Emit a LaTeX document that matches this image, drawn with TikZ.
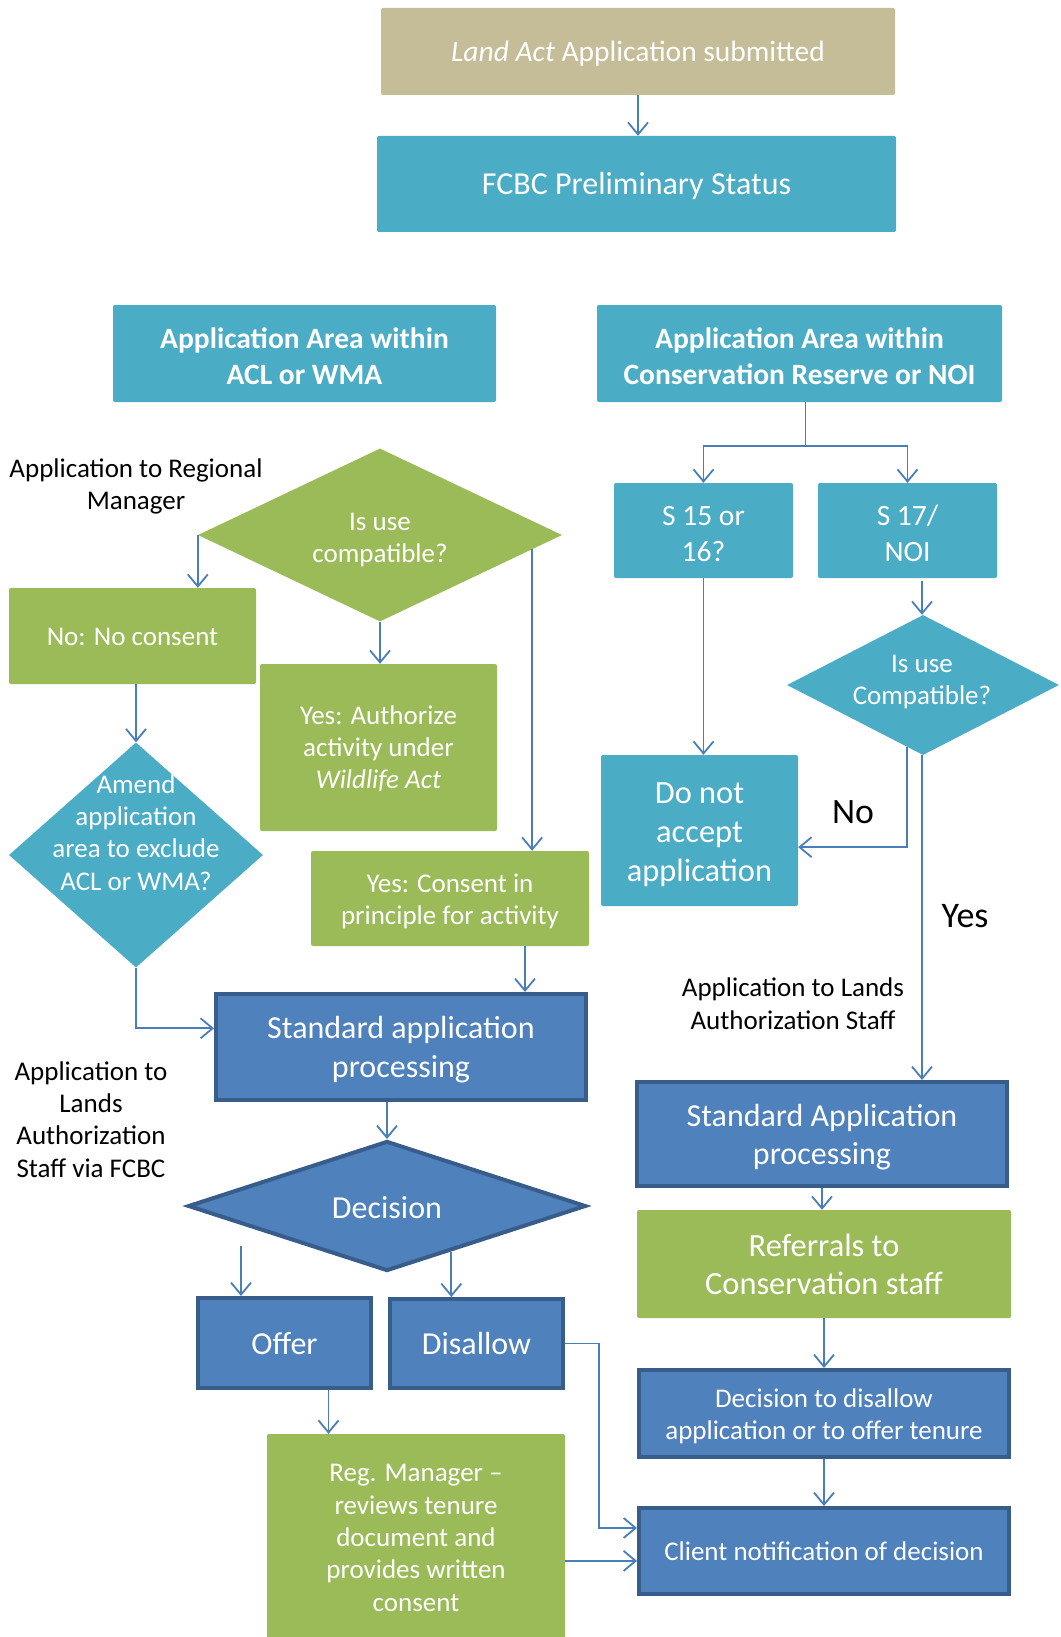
\documentclass[tikz,border=0pt]{standalone}
\usepackage{fontspec}
\setmainfont{Carlito}
\usetikzlibrary{shapes.geometric,arrows.meta,calc}
\definecolor{cTan}{HTML}{C4BD97}
\definecolor{cTeal}{HTML}{4BACC6}
\definecolor{cGreen}{HTML}{9BBB59}
\definecolor{cBlue}{HTML}{4F81BD}
\definecolor{cBlueDark}{HTML}{385D8A}
\definecolor{cLine}{HTML}{4A7EBB}
\newcommand\fsSmall{\fontsize{27}{32.4}\selectfont}
\newcommand\fsBig{\fontsize{32}{38.8}\selectfont}
\newcommand\mlines[1]{\begin{tabular}[t]{@{}c@{}}#1\end{tabular}}
\begin{document}
\begin{tikzpicture}[x=1pt,y=-1pt,
  box/.style={rectangle, rounded corners=2pt, inner sep=0pt},
  tanbox/.style={box, fill=cTan},
  tealbox/.style={box, fill=cTeal},
  greenbox/.style={box, fill=cGreen},
  bluebox/.style={rectangle, fill=cBlue, draw=cBlueDark, line width=4pt, inner sep=0pt},
  dia/.style={diamond, inner sep=0pt},
  wtxt/.style={anchor=base, inner sep=0pt, text=white},
  btxt/.style={anchor=base, inner sep=0pt, text=black},
  plain/.style={draw=cLine, line width=1.8pt},
  conn/.style={plain, -{Straight Barb[length=12pt,width=20pt]}}
]
\useasboundingbox[fill=white] (0,0) rectangle (1060,1637);

% ---- shapes: top
\node[tanbox, minimum width=514, minimum height=87] (land) at (638,51.5) {};
\node[tealbox, minimum width=519, minimum height=96] (fcbc) at (636.5,184) {};
\node[tealbox, minimum width=383, minimum height=97] (acl) at (304.5,353.5) {};
\node[tealbox, minimum width=405, minimum height=97] (cr) at (799.5,353.5) {};
% ---- shapes: left column
\node[dia, fill=cGreen, minimum width=364, minimum height=173] (d1) at (380,535) {};
\node[greenbox, minimum width=247, minimum height=96] (no) at (132.5,636) {};
\node[greenbox, minimum width=237, minimum height=167] (yauth) at (378.5,747.5) {};
\node[dia, fill=cTeal, minimum width=254, minimum height=225] (amend) at (136,855) {};
\node[greenbox, minimum width=278, minimum height=95] (cons) at (450,898.5) {};
\node[bluebox, minimum width=370, minimum height=106] (std) at (401,1047) {};
\node[dia, fill=cBlue, draw=cBlueDark, line width=4pt, minimum width=398, minimum height=130] (dec) at (387,1206) {};
\node[bluebox, minimum width=173, minimum height=90] (offer) at (284.5,1343) {};
\node[bluebox, minimum width=173, minimum height=89] (dis) at (476.5,1343.5) {};
\node[greenbox, minimum width=298, minimum height=208] (reg) at (416,1538) {};
% ---- shapes: right column
\node[tealbox, minimum width=179, minimum height=95] (s15) at (703.5,530.5) {};
\node[tealbox, minimum width=179, minimum height=95] (s17) at (907.5,530.5) {};
\node[dia, fill=cTeal, minimum width=272, minimum height=140] (d2) at (923,685) {};
\node[tealbox, minimum width=197, minimum height=151] (dna) at (699.5,830.5) {};
\node[bluebox, minimum width=370, minimum height=104] (stdr) at (822,1134) {};
\node[greenbox, minimum width=374, minimum height=108] (ref) at (824,1264) {};
\node[bluebox, minimum width=370, minimum height=87] (dec2) at (824,1413.5) {};
\node[bluebox, minimum width=370, minimum height=86] (client) at (824,1551) {};

% ---- texts (anchored at the baseline of their first line)
\node[wtxt, font=\fontsize{29.5}{36}\selectfont] (landt) at (638,62) {\textit{Land Act} Application submitted};
\node[wtxt, font=\fontsize{32}{38}\selectfont] (fcbct) at (636.5,195) {FCBC Preliminary Status};
\node[wtxt, font=\fontsize{29.5}{36}\selectfont\bfseries] (aclt) at (304.5,348) {\mlines{Application Area within\\ACL or WMA}};
\node[wtxt, font=\fontsize{29.5}{36}\selectfont\bfseries] (crt) at (799.5,348) {\mlines{Application Area within\\Conservation Reserve or NOI}};
\node[btxt, font=\fsSmall] (apprm) at (136,477) {\mlines{Application to Regional\\Manager}};
\node[wtxt, font=\fsSmall] (d1t) at (380,530) {\mlines{Is use\\compatible?}};
\node[wtxt, font=\fsSmall] (not) at (132.5,645) {No: No consent};
\node[wtxt, font=\fsSmall] (yautht) at (378.5,724) {\mlines{Yes: Authorize\\activity under\\\textit{Wildlife Act}}};
\node[wtxt, font=\fsSmall] (amendt) at (136,793) {\mlines{Amend\\application\\area to exclude\\ACL or WMA?}};
\node[wtxt, font=\fsSmall] (const) at (450,892) {\mlines{Yes: Consent in\\principle for activity}};
\node[wtxt, font=\fsBig] (stdt) at (401,1038.6) {\mlines{Standard application\\processing}};
\node[btxt, font=\fsSmall] (applt) at (91,1080) {\mlines{Application to\\Lands\\Authorization\\Staff via FCBC}};
\node[wtxt, font=\fsBig] (dect) at (387,1218) {Decision};
\node[wtxt, font=\fsBig] (offert) at (284.5,1354) {Offer};
\node[wtxt, font=\fsBig] (dist) at (476.5,1354) {Disallow};
\node[wtxt, font=\fsSmall] (regt) at (416,1481.6) {\mlines{Reg. Manager --\\reviews tenure\\document and\\provides written\\consent}};
\node[wtxt, font=\fontsize{29.5}{36}\selectfont] (s15t) at (703.5,525) {\mlines{S 15 or\\16?}};
\node[wtxt, font=\fontsize{29.5}{36}\selectfont] (s17t) at (907.5,525) {\mlines{S 17/\\NOI}};
\node[wtxt, font=\fsSmall] (d2t) at (922,672.5) {\mlines{Is use\\Compatible?}};
\node[wtxt, font=\fontsize{32.4}{39}\selectfont] (dnat) at (699.5,803) {\mlines{Do not\\accept\\application}};
\node[btxt, font=\fontsize{35.7}{40}\selectfont] (nolbl) at (853,823.6) {No};
\node[btxt, font=\fontsize{36}{40}\selectfont] (yeslbl) at (965,927) {Yes};
\node[btxt, font=\fsSmall] (applr) at (793,996.7) {\mlines{Application to Lands\\Authorization Staff}};
\node[wtxt, font=\fsBig] (stdrt) at (822,1126) {\mlines{Standard Application\\processing}};
\node[wtxt, font=\fontsize{32.4}{38.8}\selectfont] (reft) at (824,1256) {\mlines{Referrals to\\Conservation staff}};
\node[wtxt, font=\fsSmall] (dec2t) at (824,1407) {\mlines{Decision to disallow\\application or to offer tenure}};
\node[wtxt, font=\fsSmall] (clientt) at (824,1560) {Client notification of decision};

% ---- connectors
\draw[conn] (land.south) -- (land.south |- fcbc.north);

\draw[conn] (d1.west) -- (d1.west |- no.north);
\draw[conn] (d1.south) -- (d1.south |- yauth.north);
\coordinate (d1r) at ($(d1.east)!0.165!(d1.south)$);
\draw[conn] (d1r) -- (d1r |- cons.north);
\draw[conn] (amend.north |- no.south) -- (amend.north);
\coordinate (stdin) at ($(std.north west)!0.33!(std.south west)$);
\draw[conn] (amend.south) |- (stdin);
\coordinate (consout) at ($(cons.south)+(75,0)$);
\draw[conn] (consout) -- (consout |- std.north);
\draw[conn] (dec.north |- std.south) -- (dec.north);
\coordinate (offin) at (241,1246);
\draw[conn] (offin) -- (offin |- offer.north);
\coordinate (decr) at ($(dec.south)!0.32!(dec.east)$);
\draw[conn] (decr) -- (decr |- dis.north);
\coordinate (offout) at ($(offer.south)+(44,0)$);
\draw[conn] (offout) -- (offout |- reg.north);
\coordinate (cin1) at ($(client.north west)!0.244!(client.south west)$);
\coordinate (cin2) at ($(client.north west)!0.61!(client.south west)$);
\draw[conn] (dis.east) -- ++(34,0) |- (cin1);
\draw[conn] (cin2 -| reg.east) -- (cin2);

\coordinate (br) at ($(cr.south)+(6,44)$);
\draw[plain] (br |- cr.south) -- (br);
\draw[conn] (br) -| (s15.north);
\draw[conn] (br) -| (s17.north);
\draw[conn] (s15.south) -- (s15.south |- dna.north);
\coordinate (d2top) at ($(d2.north)+(-1,0)$);
\draw[conn] ($(d2top |- s17.south)+(0,3)$) -- (d2top);
\coordinate (d2l) at ($(d2.south)!0.12!(d2.west)$);
\coordinate (dnain) at ($(dna.north east)!0.61!(dna.south east)$);
\draw[conn] (d2l) |- (dnain);
\coordinate (d2bot) at ($(d2.south)+(-1,0)$);
\draw[conn] (d2bot) -- (d2bot |- stdr.north);
\draw[conn] (stdr.south) -- (stdr.south |- ref.north);
\draw[conn] (ref.south) -- (ref.south |- dec2.north);
\draw[conn] (dec2.south) -- (dec2.south |- client.north);
\end{tikzpicture}
\end{document}
